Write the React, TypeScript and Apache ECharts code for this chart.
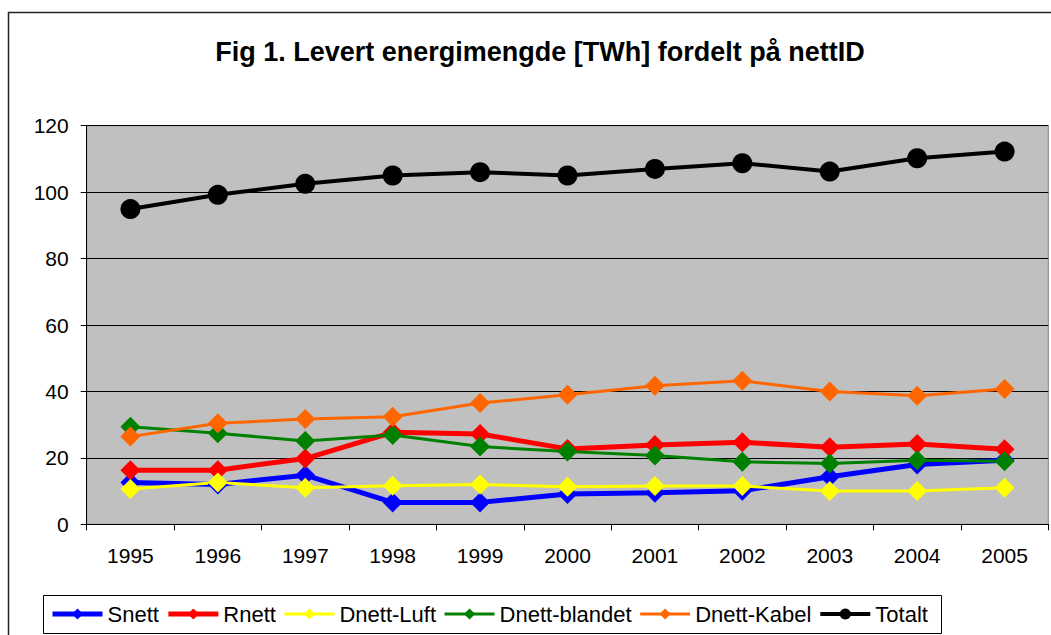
import React, { useEffect, useRef } from "react";
import * as echarts from "echarts";

const years = ["1995", "1996", "1997", "1998", "1999", "2000", "2001", "2002", "2003", "2004", "2005"];
const snett = [12.6, 12.0, 14.8, 6.6, 6.6, 9.1, 9.5, 10.1, 14.3, 18.0, 19.3];
const rnett = [16.3, 16.3, 19.8, 27.7, 27.2, 22.7, 23.9, 24.7, 23.2, 24.2, 22.6];
const dnettLuft = [10.6, 12.6, 11.0, 11.6, 12.0, 11.3, 11.5, 11.5, 10.0, 10.0, 11.0];
const dnettBlandet = [29.4, 27.4, 25.1, 26.9, 23.4, 21.9, 20.7, 18.8, 18.3, 19.3, 19.0];
const dnettKabel = [26.4, 30.4, 31.7, 32.4, 36.5, 39.0, 41.7, 43.2, 40.0, 38.7, 40.7];
const totalt = [94.9, 99.2, 102.5, 105.0, 106.0, 105.0, 107.0, 108.7, 106.2, 110.2, 112.2];

const FONT = "'Liberation Sans', Arial, sans-serif";

const seriesDefs = [
  { name: "Snett", data: snett, color: "#0000FF", width: 5, symbol: "diamond" },
  { name: "Rnett", data: rnett, color: "#FF0000", width: 5, symbol: "diamond" },
  { name: "Dnett-Luft", data: dnettLuft, color: "#FFFF00", width: 3, symbol: "diamond" },
  { name: "Dnett-blandet", data: dnettBlandet, color: "#008000", width: 3, symbol: "diamond" },
  { name: "Dnett-Kabel", data: dnettKabel, color: "#FF6600", width: 3, symbol: "diamond" },
  { name: "Totalt", data: totalt, color: "#000000", width: 4, symbol: "circle" },
];

export default function App() {
  const ref = useRef<HTMLDivElement>(null);
  useEffect(() => {
    if (!ref.current) return;
    const chart = echarts.init(ref.current, null, { renderer: "svg" });
    chart.setOption({
      animation: false,
      backgroundColor: "#ffffff",
      textStyle: { fontFamily: FONT },
      title: {
        text: "Fig 1. Levert energimengde [TWh] fordelt på nettID",
        left: 535,
        textAlign: "center",
        top: 33,
        textStyle: { fontFamily: FONT, fontSize: 27, fontWeight: "bold", color: "#000" },
      },
      graphic: [
        {
          type: "rect",
          shape: { x: 8.5, y: 12.5, width: 1100, height: 700 },
          style: { fill: "none", stroke: "#222", lineWidth: 1.5 },
          silent: true,
          z: 0,
        },
        {
          type: "rect",
          shape: { x: 43.5, y: 595.5, width: 898, height: 38 },
          style: { fill: "none", stroke: "#000", lineWidth: 1 },
          silent: true,
          z: 0,
        },
      ],
      legend: {
        left: 50,
        top: 603,
        padding: 0,
        itemWidth: 50,
        itemHeight: 14,
        itemGap: 7,
        textStyle: { fontFamily: FONT, fontSize: 22, color: "#000" },
        data: seriesDefs.map((s) => ({
          name: s.name,
          lineStyle: { width: s.width, color: s.color },
        })),
      },
      grid: {
        left: 86.7,
        right: 2.7,
        top: 125.7,
        bottom: 110.7,
        show: true,
        backgroundColor: "#C0C0C0",
        borderColor: "#808080",
        borderWidth: 1,
      },
      xAxis: {
        type: "category",
        data: years,
        boundaryGap: true,
        axisLine: { lineStyle: { color: "#000", width: 1 } },
        axisTick: { show: true, length: 6, lineStyle: { color: "#000" } },
        axisLabel: { fontFamily: FONT, fontSize: 21, color: "#000", margin: 21 },
        splitLine: { show: false },
      },
      yAxis: {
        type: "value",
        min: 0,
        max: 120,
        interval: 20,
        axisLine: { show: true, lineStyle: { color: "#000", width: 1 } },
        axisTick: { show: true, length: 6, lineStyle: { color: "#000" } },
        axisLabel: { fontFamily: FONT, fontSize: 21, color: "#000", margin: 18 },
        splitLine: { show: true, lineStyle: { color: "#000", width: 1 } },
      },
      series: seriesDefs.map((s) => ({
        name: s.name,
        type: "line",
        data: s.data,
        symbol: s.symbol,
        symbolSize: 20,
        showSymbol: true,
        itemStyle: { color: s.color, borderWidth: 0 },
        lineStyle: { color: s.color, width: s.width },
        emphasis: { disabled: true },
      })),
    });
    return () => chart.dispose();
  }, []);
  return <div ref={ref} style={{ width: 1051, height: 635, position: "absolute", left: 0, top: 0 }} />;
}
